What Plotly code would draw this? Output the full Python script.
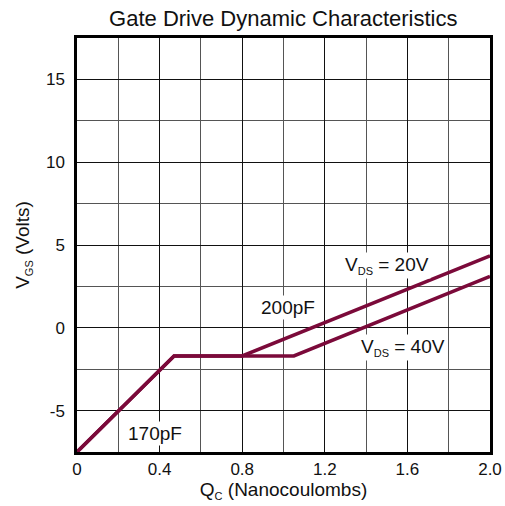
import plotly.graph_objects as go

# Data
q_vds20 = [0.0, 0.47, 0.80, 2.0]
vgs_vds20 = [-7.5, -1.7, -1.7, 4.35]
q_vds40 = [0.0, 0.47, 1.05, 2.0]
vgs_vds40 = [-7.5, -1.7, -1.7, 3.1]

x_tickvals = [0, 0.4, 0.8, 1.2, 1.6, 2.0]
x_ticktext = ["0", "0.4", "0.8", "1.2", "1.6", "2.0"]
y_tickvals = [-5, 0, 5, 10, 15]
y_ticktext = ["-5", "0", "5", "10", "15"]

line_color = "#7B0A3A"
font_family = "Liberation Sans, Arial, sans-serif"

def sub(s):
    return "<sub><span style='font-size:11px'>" + s + "</span></sub>"

fig = go.Figure()
fig.add_trace(go.Scatter(x=q_vds40, y=vgs_vds40, mode="lines",
                         line=dict(color=line_color, width=3.5), showlegend=False))
fig.add_trace(go.Scatter(x=q_vds20, y=vgs_vds20, mode="lines",
                         line=dict(color=line_color, width=3.5), showlegend=False))

ann_font = dict(family=font_family, size=19, color="#111")
annotations = [
    dict(x=1.50, y=3.75, text="V" + sub("DS") + " = 20V"),
    dict(x=1.02, y=1.2, text="200pF"),
    dict(x=1.58, y=-1.2, text="V" + sub("DS") + " = 40V"),
    dict(x=0.38, y=-6.4, text="170pF"),
]
for a in annotations:
    fig.add_annotation(x=a["x"], y=a["y"], text=a["text"], showarrow=False,
                       font=ann_font, bgcolor="white", borderpad=1)

fig.update_layout(
    width=505, height=506,
    margin=dict(l=77, r=15, t=38, b=54, autoexpand=False),
    paper_bgcolor="white", plot_bgcolor="white",
    font=dict(family=font_family, color="#111"),
    title=dict(text="Gate Drive Dynamic Characteristics", x=0.561, xanchor="center",
               y=1 - 18 / 506, yanchor="middle", yref="container",
               font=dict(size=22, family=font_family, color="#111")),
    xaxis=dict(range=[0, 2.0], tickvals=x_tickvals, ticktext=x_ticktext,
               showgrid=True, gridcolor="#111", gridwidth=1,
               minor=dict(dtick=0.2, tick0=0, showgrid=True, gridcolor="#555", gridwidth=1),
               showline=True, linecolor="black", linewidth=2.5, mirror=True,
               ticks="", tickfont=dict(size=17), zeroline=False, automargin=False,
               title=dict(text="Q" + sub("C") + " (Nanocoulombs)", font=dict(size=19), standoff=5)),
    yaxis=dict(range=[-7.5, 17.5], tickvals=y_tickvals, ticktext=y_ticktext,
               showgrid=True, gridcolor="#111", gridwidth=1,
               minor=dict(dtick=2.5, tick0=0, showgrid=True, gridcolor="#555", gridwidth=1),
               showline=True, linecolor="black", linewidth=2.5, mirror=True,
               ticks="", tickfont=dict(size=17), zeroline=False, automargin=False,
               ticklabelstandoff=6,
               title=dict(text="V" + sub("GS") + " (Volts)", font=dict(size=19), standoff=12)),
)

fig.write_html("out.html", config={"displayModeBar": False},
               post_script="document.body.style.margin='0';")
